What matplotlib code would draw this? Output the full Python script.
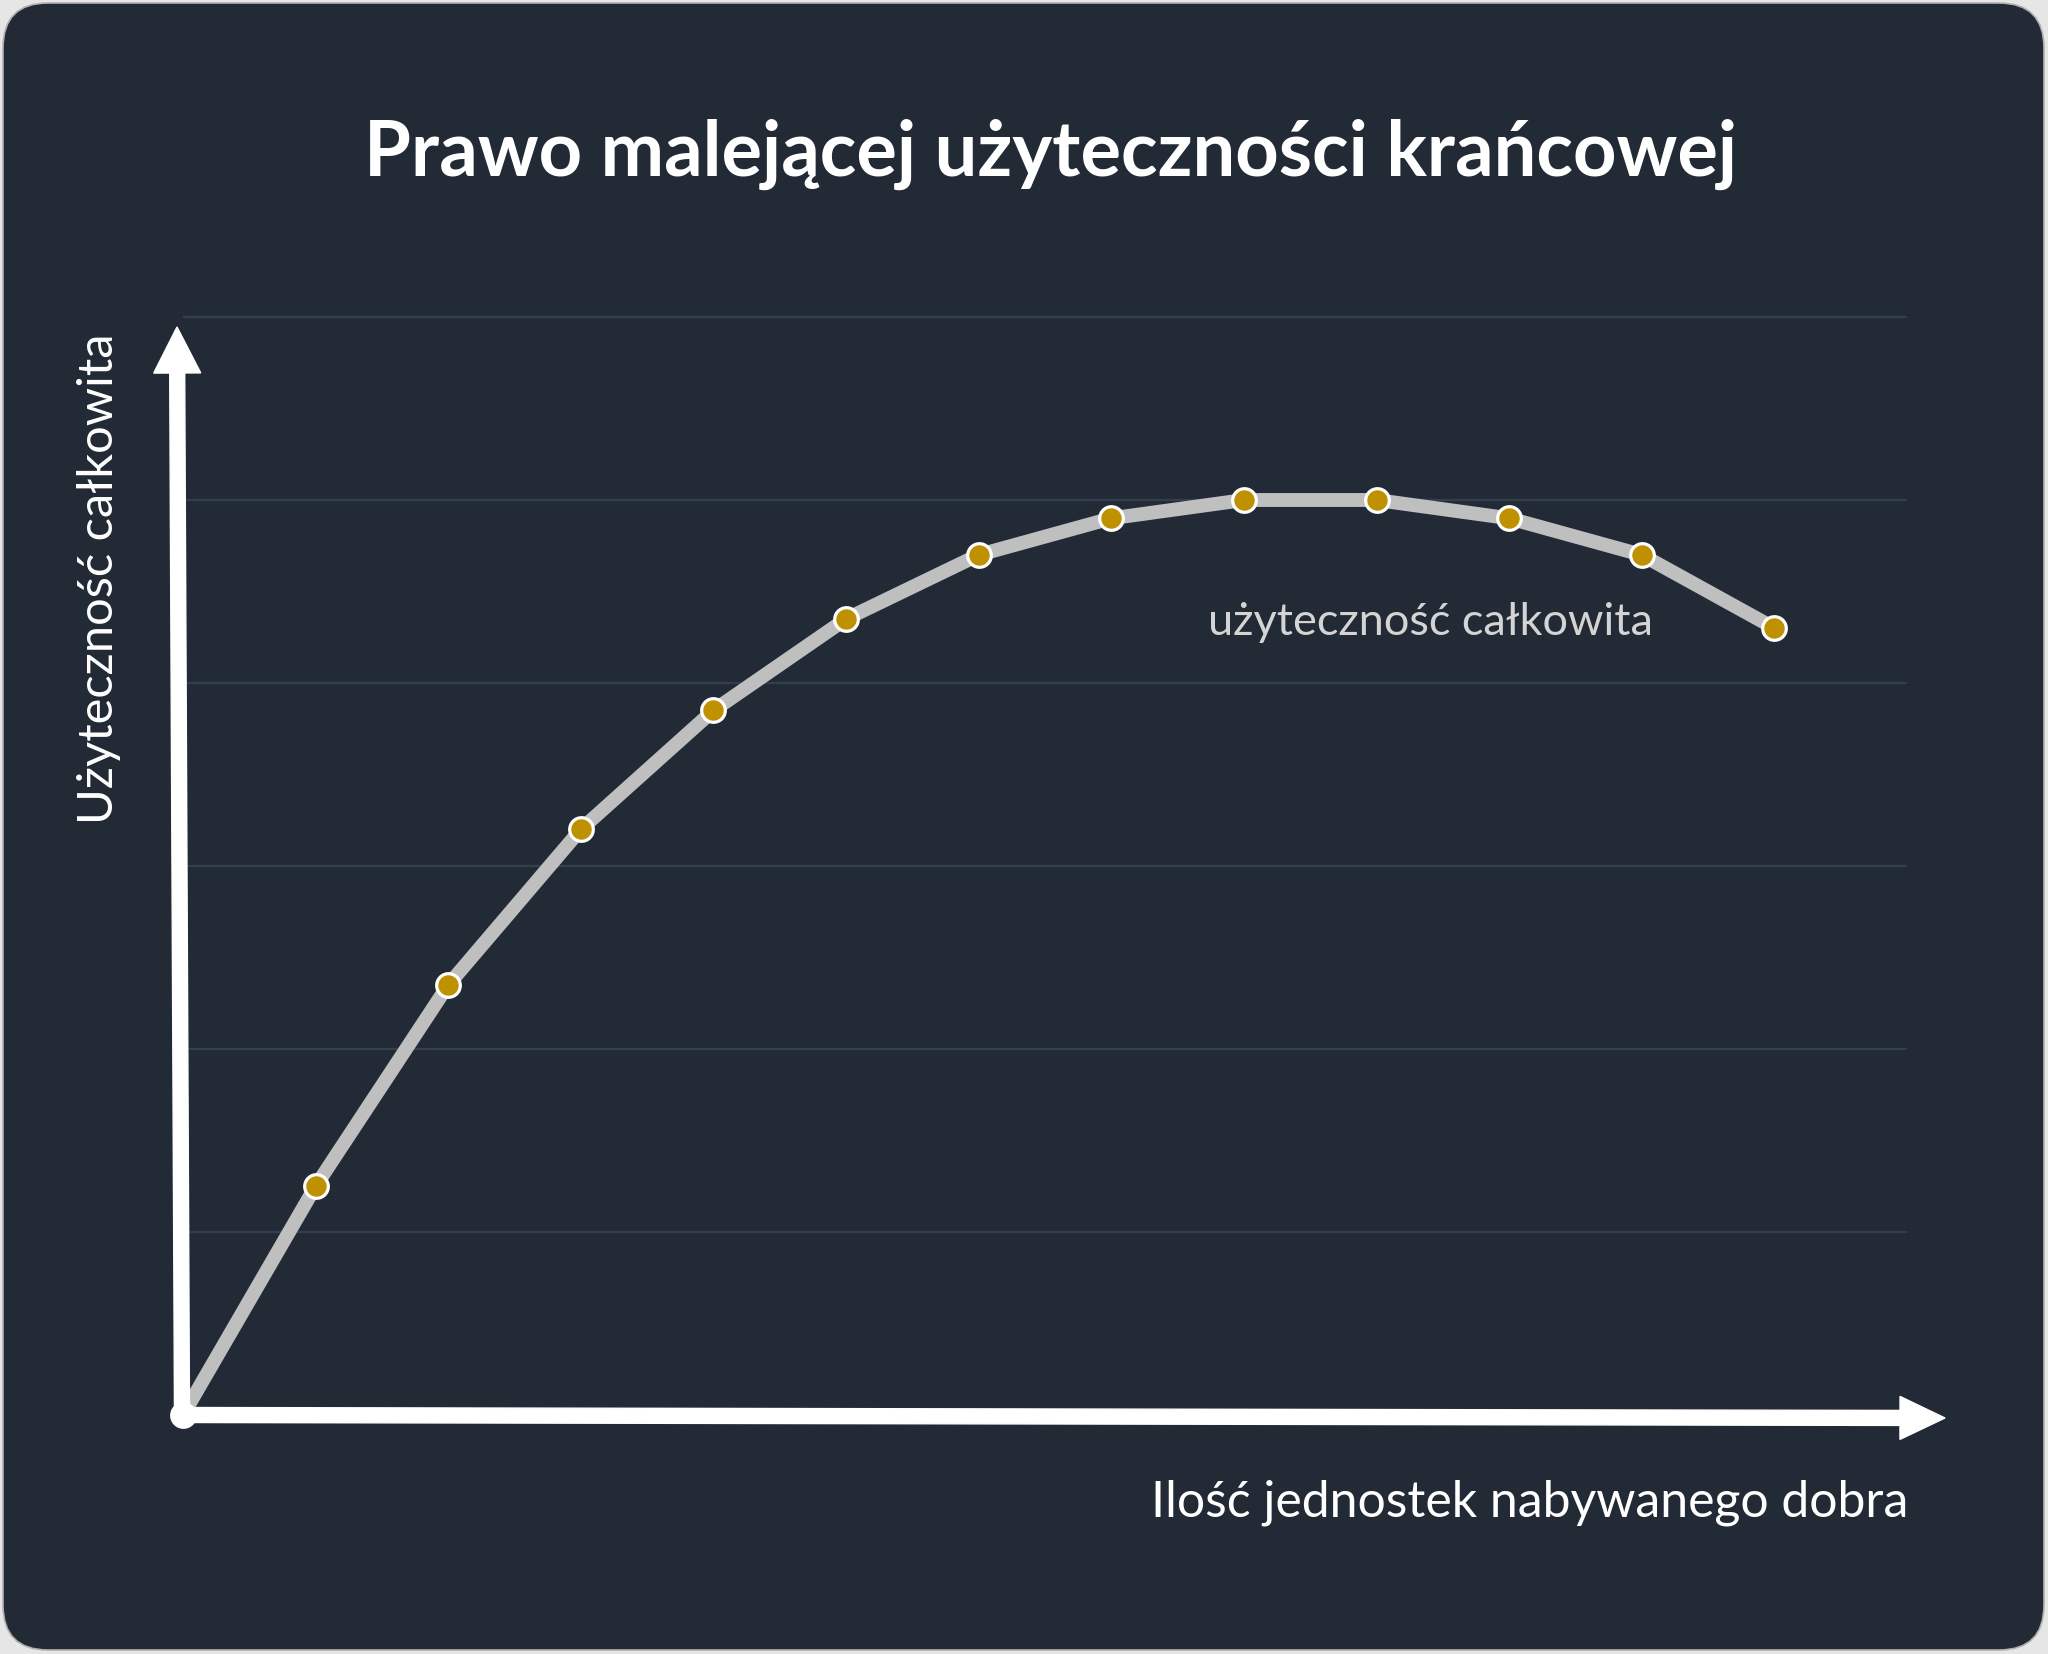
import matplotlib
matplotlib.use("Agg")
import matplotlib.pyplot as plt
from matplotlib.patches import FancyArrow, FancyBboxPatch
from matplotlib.transforms import Affine2D

# ---- data ----
units = list(range(0, 13))
total_utility = [0, 25, 47, 64, 77, 87, 94, 98, 100, 100, 98, 94, 86]
grid_levels = [20, 40, 60, 80, 100, 120]

title = "Prawo malejącej użyteczności krańcowej"
x_label = "Ilość jednostek nabywanego dobra"
y_label = "Użyteczność całkowita"
series_label = "użyteczność całkowita"

W, H, DPI = 2048, 1654, 100
BG = "#222a35"
GRID = "#333f50"
LINE = "#bfbfbf"
MARK = "#bf9000"
FONT = ["Lato", "DejaVu Sans"]

fig = plt.figure(figsize=(W / DPI, H / DPI), dpi=DPI)
fig.patch.set_facecolor("#e6e6e6")

# pixel transform (image coordinates, origin top-left)
px = Affine2D().scale(1 / DPI, -1 / DPI).translate(0, H / DPI) + fig.dpi_scale_trans

# rounded dark panel
panel = FancyBboxPatch((3, 3), W - 7, H - 7, boxstyle="round,pad=0,rounding_size=45",
                       transform=px, facecolor=BG, edgecolor="#b0b0b0", linewidth=1.2,
                       zorder=-5)
fig.patches.append(panel)

# axes area (data area)
ox, oy = 183, 1415
x_right = 1907
y_top = 271.25
ax = fig.add_axes([ox / W, (H - oy) / H, (x_right - ox) / W, (oy - y_top) / H])
ax.set_zorder(1)
ax.set_facecolor("none")
ax.set_xlim(0, 13)
ax.set_ylim(0, 125)
for s in ax.spines.values():
    s.set_visible(False)
ax.set_xticks([])
ax.set_yticks(grid_levels)
ax.tick_params(length=0, labelleft=False)
ax.grid(axis="y", color=GRID, linewidth=1.6)
ax.set_axisbelow(True)

ax.plot(units, total_utility, color=LINE, linewidth=10, solid_joinstyle="round",
        solid_capstyle="round", zorder=3, clip_on=False)
ax.plot(units, total_utility, linestyle="none", marker="o", markersize=17,
        markerfacecolor=MARK, markeredgecolor="white", markeredgewidth=2.3,
        zorder=4, clip_on=False)

# axis arrows (white), drawn above the data
ya = FancyArrow(182, 1415, -5, -1088, width=15, head_width=47, head_length=46,
                length_includes_head=True, transform=px, color="white", zorder=10)
xa = FancyArrow(182, 1415, 1763, 3, width=15, head_width=43, head_length=45,
                length_includes_head=True, transform=px, color="white", zorder=10)
fig.patches.append(ya)
fig.patches.append(xa)
ax2 = fig.add_axes(ax.get_position(), sharex=ax, sharey=ax)
ax2.set_zorder(20)
ax2.axis("off")
ax2.patch.set_visible(False)
ax2.plot(units[0], total_utility[0], marker="o", markersize=16, color="white",
         clip_on=False, linestyle="none")

renderer = fig.canvas.get_renderer()


def fit(t, target, axis="w"):
    for _ in range(3):
        bb = t.get_window_extent(renderer)
        cur = bb.width if axis == "w" else bb.height
        t.set_fontsize(t.get_fontsize() * target / cur)


t1 = fig.text(1051, 176, title, transform=px, ha="center", va="baseline",
              color="white", fontweight="bold", family=FONT, fontsize=60)
fit(t1, 1371)

t2 = fig.text(1908, 1517, x_label, transform=px, ha="right", va="baseline",
              color="white", family=FONT, fontsize=34)
fit(t2, 758)

t3 = fig.text(113, 579, y_label, transform=px, ha="center", va="baseline",
              rotation=90, rotation_mode="anchor", color="white", family=FONT, fontsize=34)
fit(t3, 491, axis="h")

t4 = fig.text(1208, 635, series_label, transform=px, ha="left", va="baseline",
              color="#d4d4d4", family=FONT, fontsize=30)
fit(t4, 445)

fig.savefig("out.png", dpi=DPI, facecolor=fig.get_facecolor())
